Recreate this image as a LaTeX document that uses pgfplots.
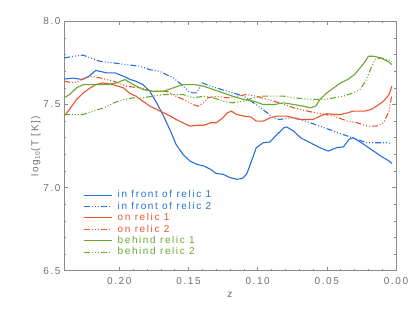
\documentclass[border=0pt]{standalone}
\usepackage{pgfplots}
\pgfplotsset{compat=1.18}
\usepackage{fontspec}
\setmainfont[LetterSpace=16]{Liberation Sans}
\definecolor{cblue}{RGB}{40,110,220}
\definecolor{corange}{RGB}{235,85,45}
\definecolor{cgreen}{RGB}{105,168,45}
\definecolor{cgrey}{RGB}{110,110,110}
\definecolor{caxis}{RGB}{140,140,140}
\begin{document}
\begin{tikzpicture}
\useasboundingbox (-64bp,-42bp) rectangle (351bp,270.7bp);
\begin{axis}[
  at={(0,0)}, anchor=south west,
  scale only axis, width=332bp, height=249.3bp,
  xmin=0, xmax=0.24, ymin=6.5, ymax=8.0,
  x dir=reverse,
  xtick={0,0.05,0.10,0.15,0.20}, ytick={6.5,7.0,7.5,8.0},
  minor x tick num=4, minor y tick num=4,
  xticklabel style={yshift=-3bp,/pgf/number format/.cd,fixed,fixed zerofill,precision=2},
  yticklabel style={/pgf/number format/.cd,fixed,fixed zerofill,precision=1},
  /pgf/number format/assume math mode=true,
  tick align=inside,
  major tick length=4bp, minor tick length=2bp,
  axis line style={caxis, line width=0.6bp},
  every tick/.style={caxis, line width=0.6bp},
  font=\fontsize{10bp}{12bp}\selectfont,
  ticklabel style={cgrey},
  xlabel={z}, ylabel={log$_{\mathsf{10}}$(T [K])},
  label style={cgrey},
  xlabel style={yshift=-1bp},
  ylabel style={yshift=-4bp},
  legend style={at={(axis cs:0.2285,7.0)}, anchor=north west, draw=none, fill=none,
    nodes={inner ysep=0.6bp, inner xsep=2bp, text height=7.5bp, text depth=2bp}, row sep=0.7bp},
  legend cell align=left,
  /tikz/every odd column/.append style={column sep=3.5bp},
  legend image code/.code={\draw[#1] (0bp,0bp) -- (28bp,0bp);},
]
\addplot[cblue, line width=1.1bp] coordinates {
(0.240,7.653)(0.233,7.659)(0.227,7.65)(0.222,7.67)(0.217,7.705)(0.209,7.69)(0.203,7.69)(0.197,7.67)(0.192,7.65)(0.188,7.64)(0.183,7.62)(0.178,7.58)(0.173,7.51)(0.168,7.43)(0.163,7.34)(0.159,7.26)(0.154,7.20)(0.149,7.16)(0.144,7.14)(0.139,7.13)(0.134,7.11)(0.130,7.085)(0.125,7.08)(0.120,7.06)(0.115,7.05)(0.111,7.055)(0.108,7.08)(0.104,7.17)(0.101,7.24)(0.096,7.27)(0.091,7.275)(0.086,7.32)(0.081,7.36)(0.079,7.365)(0.074,7.34)(0.069,7.30)(0.062,7.27)(0.055,7.24)(0.049,7.22)(0.043,7.24)(0.038,7.245)(0.034,7.29)(0.031,7.30)(0.025,7.27)(0.018,7.23)(0.011,7.19)(0.005,7.16)(0.003,7.145)};
\addlegendentry{\textcolor{cblue}{in front of relic 1}}
\addplot[cblue, line width=1.1bp, dash pattern=on 6bp off 2bp on 1bp off 2bp on 1bp off 2bp on 1bp off 2bp] coordinates {
(0.240,7.78)(0.233,7.79)(0.226,7.797)(0.221,7.78)(0.214,7.76)(0.204,7.75)(0.195,7.74)(0.185,7.73)(0.178,7.71)(0.171,7.70)(0.166,7.68)(0.161,7.66)(0.155,7.62)(0.150,7.58)(0.147,7.57)(0.144,7.57)(0.140,7.63)(0.137,7.62)(0.130,7.60)(0.122,7.58)(0.118,7.57)(0.110,7.55)(0.103,7.51)(0.098,7.48)(0.093,7.45)(0.089,7.42)(0.084,7.41)(0.076,7.42)(0.069,7.41)(0.062,7.39)(0.055,7.37)(0.045,7.34)(0.035,7.31)(0.028,7.29)(0.021,7.27)(0.014,7.27)(0.006,7.27)(0.003,7.265)};
\addlegendentry{\textcolor{cblue}{in front of relic 2}}
\addplot[corange, line width=1.1bp] coordinates {
(0.240,7.43)(0.236,7.47)(0.231,7.53)(0.226,7.57)(0.221,7.60)(0.217,7.62)(0.212,7.63)(0.205,7.62)(0.197,7.60)(0.193,7.57)(0.188,7.55)(0.183,7.52)(0.178,7.49)(0.173,7.47)(0.168,7.45)(0.163,7.43)(0.159,7.41)(0.154,7.39)(0.149,7.37)(0.144,7.375)(0.139,7.375)(0.134,7.39)(0.130,7.39)(0.125,7.42)(0.122,7.45)(0.119,7.46)(0.115,7.44)(0.110,7.43)(0.105,7.425)(0.101,7.40)(0.096,7.40)(0.091,7.42)(0.086,7.43)(0.079,7.43)(0.074,7.42)(0.069,7.41)(0.064,7.41)(0.060,7.41)(0.055,7.43)(0.050,7.445)(0.045,7.44)(0.040,7.44)(0.035,7.45)(0.031,7.46)(0.023,7.46)(0.018,7.47)(0.014,7.49)(0.009,7.52)(0.005,7.56)(0.003,7.61)};
\addlegendentry{\textcolor{corange}{on relic 1}}
\addplot[corange, line width=1.1bp, dash pattern=on 6bp off 2bp on 1bp off 2bp on 1bp off 2bp on 1bp off 2bp] coordinates {
(0.240,7.64)(0.233,7.63)(0.227,7.65)(0.221,7.67)(0.214,7.66)(0.204,7.64)(0.195,7.61)(0.185,7.60)(0.176,7.58)(0.166,7.58)(0.159,7.55)(0.151,7.52)(0.147,7.50)(0.143,7.49)(0.139,7.51)(0.136,7.54)(0.130,7.55)(0.122,7.54)(0.115,7.55)(0.108,7.56)(0.101,7.55)(0.093,7.53)(0.084,7.51)(0.074,7.48)(0.064,7.46)(0.055,7.445)(0.045,7.43)(0.035,7.40)(0.028,7.39)(0.021,7.37)(0.014,7.37)(0.009,7.39)(0.005,7.46)(0.003,7.56)};
\addlegendentry{\textcolor{corange}{on relic 2}}
\addplot[cgreen, line width=1.1bp] coordinates {
(0.240,7.54)(0.236,7.56)(0.231,7.60)(0.226,7.62)(0.219,7.62)(0.209,7.62)(0.202,7.63)(0.196,7.65)(0.190,7.62)(0.183,7.59)(0.176,7.58)(0.168,7.58)(0.161,7.60)(0.154,7.62)(0.146,7.62)(0.139,7.61)(0.132,7.59)(0.125,7.57)(0.118,7.55)(0.110,7.53)(0.103,7.52)(0.096,7.50)(0.088,7.50)(0.081,7.51)(0.074,7.50)(0.067,7.49)(0.062,7.48)(0.058,7.49)(0.055,7.53)(0.050,7.57)(0.045,7.60)(0.040,7.63)(0.035,7.65)(0.030,7.68)(0.027,7.71)(0.023,7.75)(0.020,7.79)(0.016,7.79)(0.011,7.78)(0.006,7.76)(0.003,7.74)};
\addlegendentry{\textcolor{cgreen}{behind relic 1}}
\addplot[cgreen, line width=1.1bp, dash pattern=on 6bp off 2bp on 1bp off 2bp on 1bp off 2bp on 1bp off 2bp] coordinates {
(0.240,7.44)(0.233,7.44)(0.226,7.44)(0.219,7.46)(0.211,7.48)(0.204,7.51)(0.197,7.53)(0.190,7.54)(0.183,7.54)(0.176,7.55)(0.168,7.56)(0.161,7.56)(0.154,7.56)(0.146,7.54)(0.139,7.55)(0.132,7.54)(0.125,7.52)(0.118,7.51)(0.110,7.52)(0.103,7.54)(0.096,7.55)(0.089,7.55)(0.081,7.55)(0.074,7.54)(0.067,7.535)(0.060,7.53)(0.052,7.53)(0.045,7.54)(0.038,7.55)(0.031,7.57)(0.026,7.59)(0.022,7.64)(0.018,7.72)(0.015,7.77)(0.011,7.78)(0.006,7.77)(0.003,7.76)};
\addlegendentry{\textcolor{cgreen}{behind relic 2}}
\end{axis}
\end{tikzpicture}
\end{document}
